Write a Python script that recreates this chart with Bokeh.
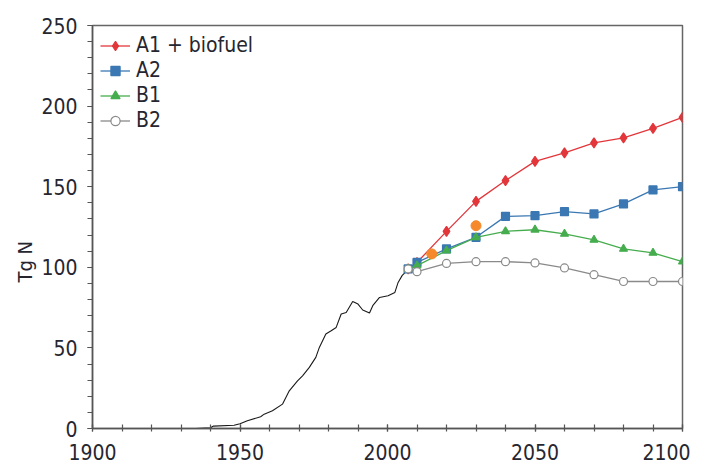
from bokeh.plotting import figure
from bokeh.models import SingleIntervalTicker, Range1d, Legend, LegendItem, Title
from bokeh.embed import file_html
from bokeh.resources import INLINE

# Historical record (Tg N)
hist_years = [1932, 1935, 1940, 1941, 1948, 1950, 1952.5, 1957, 1958.2, 1961, 1964.4, 1966.7,
              1969.5, 1971.2, 1973.5, 1975.7, 1976.9, 1979.1, 1980.9, 1982.6, 1984.3,
              1986, 1988.2, 1990, 1991.6, 1993.9, 1995, 1997.3, 2000.2, 2002.5, 2003.6,
              2005, 2007]
hist_vals = [0, 0, 0.5, 1.5, 2, 3, 4.8, 7.3, 8.9, 11, 15.1, 23.4,
             29.6, 32.7, 37.9, 44.1, 50.3, 58.6, 60.6, 62.7, 71,
             72, 78.8, 77.2, 73.5, 71.6, 76.2, 81.3, 82.4, 84.4, 90.6,
             95, 98.5]

# Scenario projections
scen_years = [2007, 2010, 2020, 2030, 2040, 2050, 2060, 2070, 2080, 2090, 2100]
a1_vals = [99, 103, 122.3, 140.9, 153.8, 165.7, 171, 177.2, 180.3, 186.2, 193]
a2_vals = [99, 103, 111.4, 118.6, 131.6, 132, 134.5, 133.1, 139.3, 148, 150]
b1_vals = [99, 101, 110.3, 118.6, 122.3, 123.3, 120.7, 117, 111.4, 108.9, 103.5]
b2_vals = [99, 97.3, 102.4, 103.5, 103.5, 102.7, 99.6, 95.4, 91.2, 91.2, 91.2]

# Additional estimates (orange dots)
extra_years = [2015, 2030]
extra_vals = [108.3, 125.8]

y_label = "Tg N"

FONT = "'DejaVu Sans Condensed', 'Liberation Sans Narrow', sans-serif"
TXT = "#262630"

p = figure(width=690, height=468, output_backend="svg", toolbar_location=None,
           x_range=Range1d(1900, 2100), y_range=Range1d(0, 250),
           min_border_left=92, min_border_right=8, min_border_top=25, min_border_bottom=40)

p.xgrid.visible = False
p.ygrid.visible = False
p.outline_line_color = "#666666"
p.outline_line_width = 1.5
p.background_fill_color = "white"
p.border_fill_color = "white"

# Axes
p.xaxis.ticker = SingleIntervalTicker(interval=50, num_minor_ticks=5)
p.yaxis.ticker = SingleIntervalTicker(interval=50, num_minor_ticks=5)
for ax in (p.xaxis[0], p.yaxis[0]):
    ax.axis_line_color = "#555555"
    ax.axis_line_width = 1.5
    ax.major_tick_line_color = "#555555"
    ax.minor_tick_line_color = "#555555"
    ax.major_tick_line_width = 1.2
    ax.minor_tick_line_width = 1.2
    ax.major_label_text_font = FONT
    ax.major_label_text_font_size = "21px"
    ax.major_label_text_color = TXT

p.xaxis.major_tick_in = 4
p.xaxis.major_tick_out = 3
p.xaxis.minor_tick_in = 4
p.xaxis.minor_tick_out = 3
p.xaxis.major_label_standoff = 12

p.yaxis.major_tick_in = 0
p.yaxis.major_tick_out = 5
p.yaxis.minor_tick_in = 0
p.yaxis.minor_tick_out = 5
p.yaxis.major_label_standoff = 10

# y axis title, placed beside the 100 tick as in the original
p.add_layout(Title(text=y_label, align="left", offset=146, text_font=FONT,
                   text_font_size="20px", text_font_style="normal", text_color=TXT,
                   standoff=4), "left")

# Historical line
p.line(hist_years, hist_vals, line_color="#1a1a1a", line_width=1.1)

RED = "#e2363b"
BLUE = "#3b78b3"
GREEN = "#46ad4e"
GRAY = "#8a8a8a"
ORANGE = "#f5892c"

series = [
    ("A1 + biofuel", a1_vals, RED, "diamond", 10, RED),
    ("A2", a2_vals, BLUE, "square", 8, BLUE),
    ("B1", b1_vals, GREEN, "triangle", 8, GREEN),
    ("B2", b2_vals, GRAY, "circle", 8, "white"),
]

items = []
for name, vals, col, marker, size, fill in series:
    ln = p.line(scen_years, vals, line_color=col, line_width=1.3)
    sc = p.scatter(scen_years, vals, marker=marker, size=size, fill_color=fill,
                   line_color=col, line_width=1.2)
    items.append(LegendItem(label=name, renderers=[ln, sc]))

p.scatter(extra_years, extra_vals, marker="circle", size=10, fill_color=ORANGE,
          line_color=ORANGE)

legend = Legend(items=items, location="top_left")
legend.margin = 8
legend.padding = 0
legend.spacing = 1
legend.border_line_color = None
legend.background_fill_alpha = 0
legend.label_text_font = FONT
legend.label_text_font_size = "21px"
legend.label_text_color = TXT
legend.glyph_width = 30
legend.glyph_height = 23
legend.label_height = 23
legend.label_standoff = 6
p.add_layout(legend)

open("out.html", "w").write(file_html(p, INLINE))
